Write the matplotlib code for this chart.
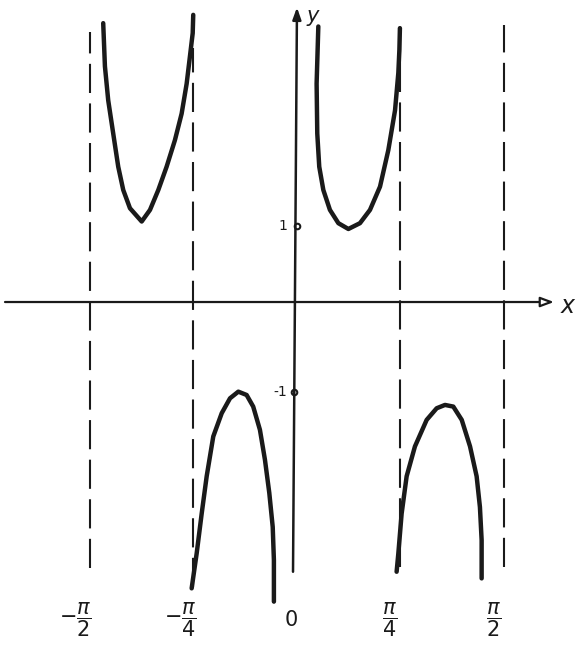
import numpy as np
import matplotlib.pyplot as plt

# branches (x in radians, y in units)
ul_x = [-1.470, -1.457, -1.432, -1.394, -1.356, -1.318, -1.267, -1.178, -1.115,
        -1.052, -0.989, -0.926, -0.875, -0.837, -0.812, -0.791, -0.787]
ul_y = [3.36, 2.84, 2.43, 2.03, 1.63, 1.35, 1.13, 0.97, 1.11,
        1.35, 1.63, 1.95, 2.27, 2.63, 2.96, 3.24, 3.46]

ur_x = [0.162, 0.149, 0.154, 0.169, 0.200, 0.250, 0.314, 0.390, 0.478,
        0.554, 0.630, 0.693, 0.744, 0.769, 0.777, 0.781]
ur_y = [3.32, 2.63, 2.03, 1.63, 1.35, 1.11, 0.95, 0.88, 0.95,
        1.11, 1.39, 1.83, 2.31, 2.76, 3.04, 3.30]

ll_x = [-0.799, -0.761, -0.723, -0.685, -0.635, -0.571, -0.508, -0.445, -0.382,
        -0.332, -0.281, -0.243, -0.210, -0.184, -0.175, -0.175]
ll_y = [-3.45, -3.03, -2.55, -2.10, -1.62, -1.34, -1.16, -1.08, -1.12,
        -1.26, -1.54, -1.90, -2.30, -2.71, -3.11, -3.61]

lr_x = [0.756, 0.769, 0.794, 0.832, 0.895, 0.984, 1.060, 1.123, 1.186,
        1.250, 1.313, 1.363, 1.388, 1.401, 1.401]
lr_y = [-3.25, -3.03, -2.55, -2.10, -1.74, -1.42, -1.28, -1.24, -1.26,
        -1.42, -1.74, -2.10, -2.47, -2.87, -3.33]

# vertical asymptotes and how far the dashes run
asym_x = [-np.pi/2, -np.pi/4, np.pi/4, np.pi/2]
asym_top = [3.25, 3.06, 3.28, 3.34]
asym_bot = [-3.20, -3.43, -3.19, -3.19]

tick_x = [-np.pi/2, -np.pi/4, 0, np.pi/4, np.pi/2]
tick_lab = [r"$-\dfrac{\pi}{2}$", r"$-\dfrac{\pi}{4}$", "0", r"$\dfrac{\pi}{4}$", r"$\dfrac{\pi}{2}$"]
tick_dx = [-0.11, -0.10, -0.04, -0.08, -0.08]

ink = "#1a1a1a"

fig = plt.figure(figsize=(5.83, 6.54), dpi=100)
ax = fig.add_axes([0, 0, 1, 1])
ax.set_xlim(-2.253, 2.170)
ax.set_ylim(-4.241, 3.639)
ax.axis("off")

# axes
ax.annotate("", xy=(1.95, 0), xytext=(-2.215, 0),
            arrowprops=dict(arrowstyle="-|>,head_length=0.8,head_width=0.3",
                            lw=1.6, color=ink, fc="white", shrinkA=0, shrinkB=0))
ax.annotate("", xy=(0, 3.55), xytext=(-0.03, -3.25),
            arrowprops=dict(arrowstyle="-|>,head_length=0.7,head_width=0.25",
                            lw=1.8, color=ink, shrinkA=0, shrinkB=0))
ax.text(2.0, -0.05, "x", fontsize=17, style="italic", color=ink, va="center", ha="left")
ax.text(0.12, 3.45, "y", fontsize=15, style="italic", color=ink, va="center", ha="center")

# asymptotes
for xa, t, b in zip(asym_x, asym_top, asym_bot):
    ax.plot([xa, xa], [b, t], color=ink, lw=1.5, linestyle=(0, (14, 5)))

# curve branches
for bx, by in [(ul_x, ul_y), (ur_x, ur_y), (ll_x, ll_y), (lr_x, lr_y)]:
    ax.plot(bx, by, color=ink, lw=3.2, solid_capstyle="round", solid_joinstyle="round")

# marks 1 and -1 on the y axis
ax.plot([0, -0.02], [0.92, -1.09], "o", ms=4, mfc="white", mec=ink, mew=1.5)
ax.text(-0.11, 0.92, "1", fontsize=10, color=ink, va="center", ha="center")
ax.text(-0.13, -1.09, "-1", fontsize=10, color=ink, va="center", ha="center")

# tick labels under the asymptotes
for xt, dx, lab in zip(tick_x, tick_dx, tick_lab):
    ax.text(xt + dx, -3.83, lab, fontsize=15, color=ink, va="center", ha="center")

fig.savefig("out.png", dpi=100)
